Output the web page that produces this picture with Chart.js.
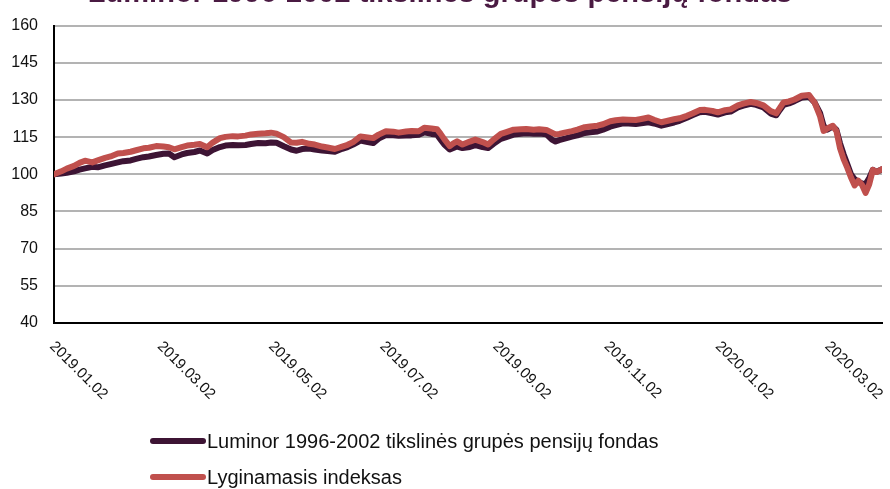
<!DOCTYPE html>
<html>
<head>
<meta charset="utf-8">
<script src="https://cdn.jsdelivr.net/npm/chart.js@4.4.1/dist/chart.umd.min.js"></script>
<style>
  html, body { margin: 0; padding: 0; background: #fff; }
  #wrap { position: relative; width: 890px; height: 489px; overflow: hidden; }
  #legend { position: absolute; left: 150px; top: 423px; font: 20px 'Liberation Sans', Arial, sans-serif; color: #111; }
  .row { display: flex; align-items: center; height: 36px; white-space: nowrap; }
  .swatch { width: 56px; height: 6px; border-radius: 3px; margin-right: 1px; }
</style>
</head>
<body>
<div id="wrap">
  <canvas id="chart" width="890" height="489"></canvas>
  <div id="legend"></div>
</div>
<script>
// Chart title (mostly cut off at the top of the picture)
var titleText = 'Luminor 1996-2002 tikslinės grupės pensijų fondas';

var seriesNames = ['Luminor 1996-2002 tikslinės grupės pensijų fondas', 'Lyginamasis indeksas'];
var seriesColors = ['#3d1434', '#c0504d'];

// Observation dates
var dates = [
  '2019-01-02','2019-01-06','2019-01-09','2019-01-13','2019-01-16','2019-01-19','2019-01-23','2019-01-26','2019-01-30',
  '2019-02-02','2019-02-06','2019-02-09','2019-02-13','2019-02-16','2019-02-20','2019-02-23','2019-02-27',
  '2019-03-03','2019-03-06','2019-03-09','2019-03-13','2019-03-16','2019-03-20','2019-03-23','2019-03-27','2019-03-30',
  '2019-04-03','2019-04-06','2019-04-10','2019-04-13','2019-04-17','2019-04-20','2019-04-24','2019-04-28',
  '2019-05-01','2019-05-04','2019-05-08','2019-05-12','2019-05-15','2019-05-18','2019-05-22','2019-05-25','2019-05-29',
  '2019-06-01','2019-06-05','2019-06-09','2019-06-12','2019-06-15','2019-06-19','2019-06-23','2019-06-26','2019-06-29',
  '2019-07-03','2019-07-07','2019-07-10','2019-07-14','2019-07-17','2019-07-21','2019-07-24','2019-07-28','2019-07-31',
  '2019-08-02','2019-08-04','2019-08-07','2019-08-09','2019-08-11','2019-08-14','2019-08-18','2019-08-21','2019-08-25','2019-08-28','2019-08-31',
  '2019-09-04','2019-09-07','2019-09-11','2019-09-15','2019-09-18','2019-09-22','2019-09-25','2019-09-29',
  '2019-10-02','2019-10-04','2019-10-06','2019-10-09','2019-10-13','2019-10-16','2019-10-20','2019-10-23','2019-10-27','2019-10-30',
  '2019-11-03','2019-11-06','2019-11-10','2019-11-13','2019-11-17','2019-11-20','2019-11-24','2019-11-27',
  '2019-12-01','2019-12-04','2019-12-08','2019-12-11','2019-12-15','2019-12-18','2019-12-22','2019-12-25','2019-12-29',
  '2020-01-01','2020-01-05','2020-01-08','2020-01-12','2020-01-15','2020-01-19','2020-01-22','2020-01-26','2020-01-30',
  '2020-02-02','2020-02-04','2020-02-06','2020-02-09','2020-02-12','2020-02-16','2020-02-20','2020-02-23','2020-02-26','2020-02-28',
  '2020-03-01','2020-03-04','2020-03-06','2020-03-08','2020-03-10','2020-03-12','2020-03-14','2020-03-16','2020-03-18',
  '2020-03-20','2020-03-22','2020-03-24','2020-03-26','2020-03-28','2020-03-31'
];

// Luminor 1996-2002 fund
var fundValues = [
  100.0,100.3,100.6,101.2,101.9,102.4,103.0,102.8,103.6,
  104.1,104.8,105.3,105.6,106.2,106.9,107.2,107.8,
  108.3,108.4,106.9,108.0,108.6,109.0,109.6,108.4,109.8,
  111.0,111.6,111.8,111.7,111.8,112.2,112.6,112.5,
  112.8,112.7,111.3,110.0,109.5,110.2,110.4,110.0,109.6,
  109.4,109.1,110.3,111.0,112.0,113.6,113.0,112.6,114.4,
  115.8,115.8,115.6,115.7,115.7,116.0,116.9,116.3,116.0,
  114.0,112.0,110.0,110.6,111.2,110.6,111.0,111.8,111.0,110.6,112.3,
  114.3,115.0,116.0,116.4,116.6,116.4,116.5,116.1,
  114.0,113.2,113.8,114.4,115.2,115.7,116.7,117.0,117.3,118.0,
  119.2,119.8,120.6,120.5,120.3,120.6,121.0,120.5,
  119.6,120.2,120.9,121.6,122.8,123.8,125.0,125.2,124.6,
  124.1,125.0,125.3,127.0,127.7,128.4,128.0,127.0,124.5,
  123.8,126.0,128.0,128.6,129.5,131.0,131.3,129.0,124.8,119.5,
  118.0,119.3,118.0,112.5,108.0,104.0,100.0,98.0,97.0,
  96.3,96.0,98.5,101.8,101.0,102.0
];

// Benchmark index
var indexValues = [
  100.0,101.2,102.3,103.4,104.6,105.5,104.8,105.6,106.6,
  107.2,108.4,108.6,109.1,109.7,110.5,110.7,111.4,
  111.2,110.9,110.1,111.0,111.6,111.9,112.2,110.9,112.8,
  114.6,115.1,115.4,115.3,115.6,116.1,116.4,116.6,
  116.8,116.4,115.0,112.8,112.7,113.1,112.3,112.0,111.2,
  110.8,110.2,111.2,111.9,113.0,115.3,114.9,114.6,116.0,
  117.4,117.2,116.8,117.3,117.5,117.4,118.8,118.5,118.2,
  116.3,114.2,111.4,112.5,113.3,112.0,113.2,114.0,113.0,112.0,114.0,
  116.3,117.0,118.0,118.2,118.3,118.0,118.2,117.9,
  116.8,116.1,116.3,116.8,117.4,118.0,119.0,119.3,119.6,120.2,
  121.4,121.8,122.1,122.0,121.9,122.3,122.9,122.0,
  121.0,121.5,122.2,122.6,123.6,124.5,125.9,126.0,125.6,
  125.0,125.9,126.2,127.8,128.5,129.2,128.8,127.8,125.5,
  124.6,126.8,129.0,129.4,130.2,131.7,132.0,129.0,123.5,117.5,
  118.5,119.6,117.5,110.5,106.0,102.6,98.7,95.5,97.4,
  95.8,92.5,96.0,101.8,100.9,102.1
];

var tickLabels = ['2019.01.02','2019.03.02','2019.05.02','2019.07.02','2019.09.02','2019.11.02','2020.01.02','2020.03.02'];
var yMin = 40, yMax = 160, yStep = 15;

var fontFamily = "'Liberation Sans', Arial, sans-serif";

function dayOf(s) {
  return (Date.parse(s.replace(/\./g, '-')) - Date.parse(dates[0])) / 86400000;
}

// Rotated date labels under the x axis (run from the tick down to the right)
var dateLabels = {
  id: 'dateLabels',
  afterDraw: function(chart) {
    var xs = chart.scales.x, c = chart.ctx;
    c.save();
    c.font = '15px ' + fontFamily;
    c.fillStyle = '#111';
    c.textAlign = 'left';
    c.textBaseline = 'middle';
    tickLabels.forEach(function(t) {
      var x = xs.getPixelForValue(dayOf(t));
      c.save();
      c.translate(x - 2, xs.top + 21);
      c.rotate(Math.PI / 4);
      c.fillText(t, 0, 0);
      c.restore();
    });
    c.restore();
  }
};

// Title text, only its bottom edge shows in the picture
var cutTitle = {
  id: 'cutTitle',
  afterDraw: function(chart) {
    var c = chart.ctx;
    c.save();
    c.font = 'bold 29px ' + fontFamily;
    c.fillStyle = '#4a1a42';
    c.textAlign = 'center';
    c.textBaseline = 'alphabetic';
    c.fillText(titleText, 440, 2);
    c.restore();
  }
};

function makeSeries(values) {
  return dates.map(function(d, i) { return { x: dayOf(d), y: values[i] }; });
}

var ctx = document.getElementById('chart').getContext('2d');
var chart = new Chart(ctx, {
  type: 'line',
  data: {
    datasets: [
      { label: seriesNames[0], data: makeSeries(fundValues), borderColor: seriesColors[0], order: 2 },
      { label: seriesNames[1], data: makeSeries(indexValues), borderColor: seriesColors[1], order: 1 }
    ]
  },
  options: {
    responsive: false,
    animation: false,
    layout: { padding: { top: 17, right: 8, left: 0, bottom: 0 } },
    plugins: {
      legend: { display: false },
      tooltip: { enabled: false },
      title: { display: false }
    },
    elements: {
      point: { radius: 0 },
      line: { borderWidth: 6, tension: 0, borderJoinStyle: 'round', borderCapStyle: 'round', fill: false }
    },
    scales: {
      x: {
        type: 'linear',
        min: 0,
        max: dayOf(dates[dates.length - 1]),
        grid: { display: false },
        border: { color: '#000', width: 2 },
        ticks: { display: false },
        afterBuildTicks: function(s) { s.ticks = tickLabels.map(function(t) { return { value: dayOf(t) }; }); },
        afterFit: function(s) { s.height = 489 - 323; }
      },
      y: {
        min: yMin,
        max: yMax,
        ticks: { stepSize: yStep, color: '#111', padding: 16, font: { family: fontFamily, size: 16 } },
        grid: { color: '#b3b3b3', lineWidth: 2, drawTicks: false },
        border: { color: '#000', width: 2 },
        afterFit: function(s) { s.width = 54; }
      }
    }
  },
  plugins: [dateLabels, cutTitle]
});

// Legend in two rows, built from the datasets
var legend = document.getElementById('legend');
chart.data.datasets.forEach(function(ds) {
  var row = document.createElement('div');
  row.className = 'row';
  var sw = document.createElement('span');
  sw.className = 'swatch';
  sw.style.background = ds.borderColor;
  var txt = document.createElement('span');
  txt.textContent = ds.label;
  row.appendChild(sw);
  row.appendChild(txt);
  legend.appendChild(row);
});
</script>
</body>
</html>
